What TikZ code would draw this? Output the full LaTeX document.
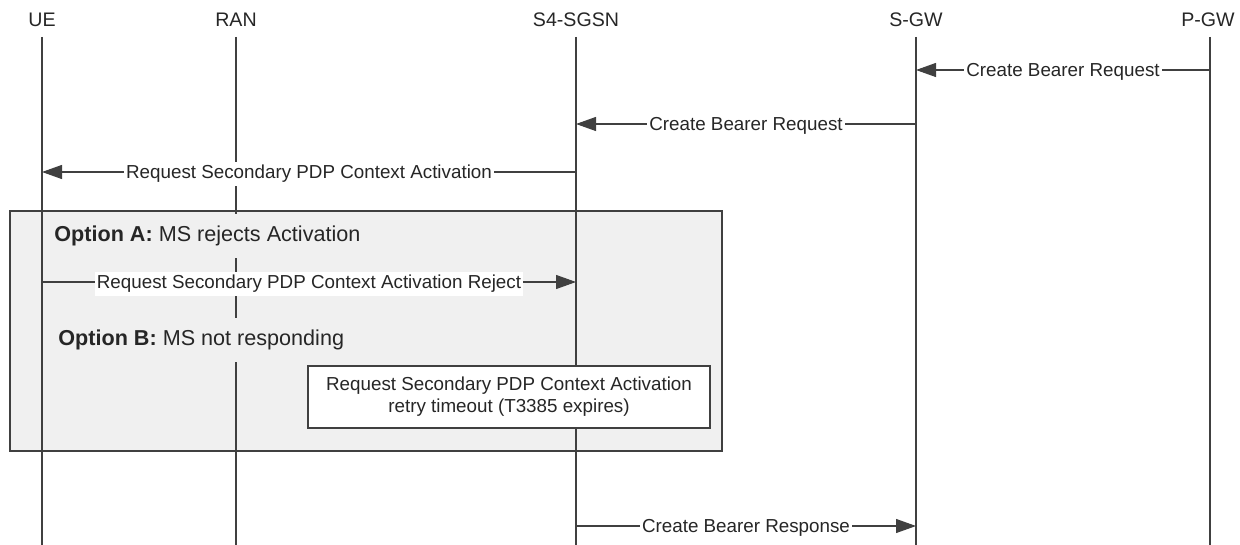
\documentclass[tikz,border=0pt]{standalone}
\usepackage{fontspec}
\setmainfont{Liberation Sans}
\usetikzlibrary{arrows.meta}
\definecolor{ln}{HTML}{404040}
\definecolor{boxbg}{HTML}{F0F0F0}
\definecolor{txt}{HTML}{262626}
\tikzset{
  life/.style={draw=ln, line width=0.55pt},
  msg/.style={draw=ln, line width=0.55pt, -{Triangle[length=10pt,width=7pt]}},
  lbl/.style={fill=white, inner xsep=1pt, inner ysep=1.5pt, text=txt, yshift=-1pt},
  optlbl/.style={fill=boxbg, inner xsep=1pt, minimum height=22pt, anchor=west, text=txt, font=\fontsize{10.8}{12}\selectfont},
  head/.style={text=txt, font=\fontsize{9.8}{11}\selectfont},
  notebox/.style={draw=ln, fill=white, line width=0.6pt, minimum width=201pt, minimum height=31pt, align=center, text=txt}
}
\begin{document}
\begin{tikzpicture}[x=0.5pt,y=-0.5pt, font=\fontsize{9.4}{10}\selectfont]
\useasboundingbox (0,0) rectangle (1240,545);
% option frame
\path[draw=ln, fill=boxbg, line width=0.7pt] (10,211) rectangle (722,451);
% headers
\node[head] (ue) at (42,20) {UE};
\node[head] (ran) at (236,20) {RAN};
\node[head] (sgsn) at (576,20) {S4-SGSN};
\node[head] (sgw) at (916,20) {S-GW};
\node[head] (pgw) at (1208,20) {P-GW};
% lifelines
\foreach \n/\x in {ue/42,ran/236,sgsn/576,sgw/916,pgw/1210}{
  \coordinate (\n top) at (\x,37);
  \coordinate (\n bot) at (\x,545);
  \draw[life] (\n top) -- (\n bot);
}
% messages
\coordinate (m1a) at (1210,70); \coordinate (m1b) at (916,70);
\draw[msg] (m1a) -- node[lbl] (l1) {Create Bearer Request} (m1b);
\coordinate (m2a) at (916,124); \coordinate (m2b) at (576,124);
\draw[msg] (m2a) -- node[lbl] (l2) {Create Bearer Request} (m2b);
\coordinate (m3a) at (576,172); \coordinate (m3b) at (42,172);
\draw[msg] (m3a) -- node[lbl] (l3) {Request Secondary PDP Context Activation} (m3b);
% options
\node[optlbl] (opta) at (52,236) {\textbf{Option A:} MS rejects Activation};
\coordinate (m4a) at (42,282); \coordinate (m4b) at (576,282);
\draw[msg] (m4a) -- node[lbl] (l4) {Request Secondary PDP Context Activation Reject} (m4b);
\node[optlbl] (optb) at (56,340) {\textbf{Option B:} MS not responding};
\node[notebox] (note) at (509,397) {Request Secondary PDP Context Activation\\[1pt] retry timeout (T3385 expires)};
% response
\coordinate (m5a) at (576,526); \coordinate (m5b) at (916,526);
\draw[msg] (m5a) -- node[lbl] (l5) {Create Bearer Response} (m5b);
\end{tikzpicture}
\end{document}
